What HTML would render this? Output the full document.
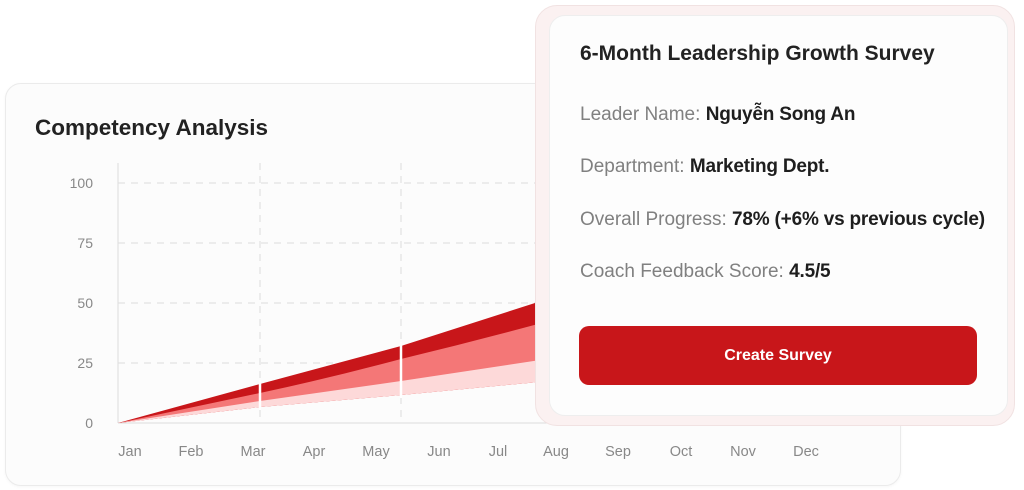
<!DOCTYPE html>
<html><head><meta charset="utf-8"><style>
body{margin:0;width:1024px;height:490px;background:#fff;position:relative;overflow:hidden;font-family:"Liberation Sans",sans-serif}
.lc{position:absolute;left:5px;top:83px;width:894px;height:401px;border:1px solid #ebebeb;border-radius:16px;background:#fcfcfc;box-shadow:0 1px 3px rgba(0,0,0,.04)}
.t{position:absolute;left:35px;top:115px;font-size:22.5px;font-weight:bold;color:#222}
.oc{position:absolute;left:535px;top:5px;width:478px;height:419px;border-radius:22px;background:#fbf1f1;border:1px solid #f1e2e2}
.ic{position:absolute;left:549px;top:15px;width:457px;height:399px;border-radius:16px;background:#fdfdfd;border:1px solid #eee}
.h{position:absolute;left:580px;top:42px;font-size:21px;font-weight:bold;color:#222}
.r{position:absolute;left:580px;font-size:19px;color:#808080}
.r b{color:#1e1e1e;font-weight:bold;letter-spacing:-0.2px}
.btn{position:absolute;left:579px;top:326px;width:398px;height:59px;border-radius:10px;background:#c8161a;color:#fff;font-size:16px;font-weight:bold;text-align:center;line-height:59px}
</style></head><body>
<div class="lc"></div>
<div class="t">Competency Analysis</div>
<svg style="position:absolute;left:0;top:0" width="1024" height="490">
<g stroke="#ddd" stroke-dasharray="7,6" stroke-width="1">
<line x1="118" y1="183" x2="900" y2="183"/><line x1="118" y1="243" x2="900" y2="243"/>
<line x1="118" y1="303" x2="900" y2="303"/><line x1="118" y1="363" x2="900" y2="363"/>
<line x1="260" y1="163" x2="260" y2="423"/><line x1="401" y1="163" x2="401" y2="423"/>
</g>
<line x1="118" y1="163" x2="118" y2="423" stroke="#ddd"/>
<line x1="118" y1="423" x2="900" y2="423" stroke="#ddd"/>
<path d="M118,423 L260,384 L401,346 L560,295 L560,380 L401,395 L260,407 Z" fill="#c8161a"/>
<path d="M118,423 L260,393 Q330,378 401,359 Q480,340 560,318 L560,380 L401,395 L260,407 Z" fill="#f47777"/>
<path d="M118,423 L260,401 L401,381 L560,357 L560,380 L401,395 L260,407 Z" fill="#fdd9d9"/>
<line x1="260" y1="380" x2="260" y2="410" stroke="#fff" stroke-width="2.5"/>
<line x1="401" y1="342" x2="401" y2="398" stroke="#fff" stroke-width="2.5"/>
<g font-family="Liberation Sans" font-size="14" fill="#888" text-anchor="end">
<text x="93" y="188">100</text><text x="93" y="248">75</text><text x="93" y="308">50</text><text x="93" y="368">25</text><text x="93" y="428">0</text>
</g>
<g font-family="Liberation Sans" font-size="14.5" fill="#888" text-anchor="middle">
<text x="130" y="456">Jan</text><text x="191" y="456">Feb</text><text x="253" y="456">Mar</text><text x="314" y="456">Apr</text><text x="376" y="456">May</text><text x="439" y="456">Jun</text><text x="498" y="456">Jul</text><text x="556" y="456">Aug</text><text x="618" y="456">Sep</text><text x="681" y="456">Oct</text><text x="743" y="456">Nov</text><text x="806" y="456">Dec</text>
</g>
</svg>
<div class="oc"></div>
<div class="ic"></div>
<div class="h">6-Month Leadership Growth Survey</div>
<div class="r" style="top:104px">Leader Name: <b>Nguyễn Song An</b></div>
<div class="r" style="top:156px">Department: <b>Marketing Dept.</b></div>
<div class="r" style="top:209px">Overall Progress: <b>78% (+6% vs previous cycle)</b></div>
<div class="r" style="top:261px">Coach Feedback Score: <b>4.5/5</b></div>
<div class="btn">Create Survey</div>
</body></html>
